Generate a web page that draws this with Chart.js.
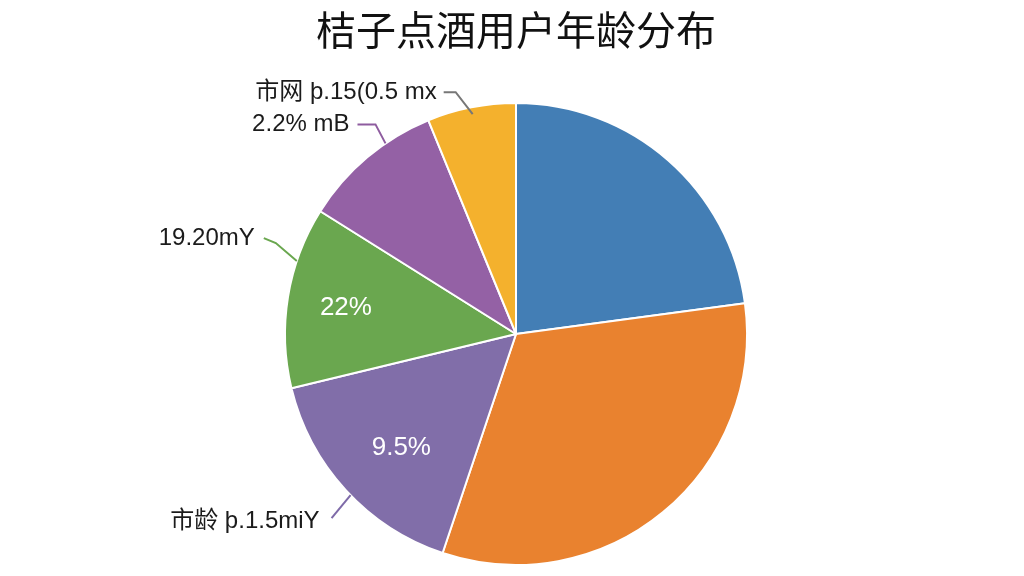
<!DOCTYPE html>
<html>
<head>
<meta charset="utf-8">
<script src="https://cdn.jsdelivr.net/npm/chart.js@4"></script>
<style>
  html, body { margin: 0; padding: 0; background: #fff; }
  #wrap { width: 1024px; height: 576px; }
</style>
</head>
<body>
<div id="wrap"><canvas id="pie"></canvas></div>
<script>
// ── DATA (clockwise from 12 o'clock) ──
const sliceNames  = ['', '', '市龄 þ.1.5miY', '19.20mY', '2.2% mB', '市网 þ.15(0.5 mx'];
const sliceValues = [22.9, 32.3, 16.1, 12.7, 9.9, 6.2];
const innerLabels = ['', '', '9.5%', '22%', '', ''];

const COLOURS = ['#437eb5', '#e9822f', '#816ea9', '#6aa74f', '#9461a5', '#f4b12d'];
const FONT = '"Liberation Sans", "Noto Sans CJK SC", sans-serif';

// ── INSIDE LABEL PLACEMENT: [fraction along slice, fraction of radius] ──
const INNER_POS = { 2: [0.46, 0.70], 3: [0.49, 0.745] };

// ── LEADER LINES: where each outside label hangs off its slice ──
const LEADERS = {
  2: { at: 0.47, r: 1.0,  pts: [[-19, 23]],            gap: 12, dy: 3, colour: '#7e6aa8' },
  3: { at: 0.70, r: 1.0,  pts: [[-21, -18], [-12, -5]], gap: 9,  dy: 0, colour: '#6aa74f' },
  4: { at: 0.66, r: 1.0,  pts: [[-10, -19], [-18, 0]],  gap: 8,  dy: 0, colour: '#8e5c9f' },
  5: { at: 0.50, r: 0.97, pts: [[-17, -22], [-12, 0]],  gap: 7,  dy: 0, colour: '#777777' },
};

const labelPlugin = {
  id: 'sliceLabels',
  afterDatasetsDraw(chart) {
    const ctx = chart.ctx;
    const arcs = chart.getDatasetMeta(0).data;
    ctx.save();
    arcs.forEach((arc, i) => {
      const { x, y, startAngle, endAngle, outerRadius } = arc.getProps(['x','y','startAngle','endAngle','outerRadius'], true);
      // inside label
      if (innerLabels[i]) {
        const [f, rf] = INNER_POS[i] || [0.5, 0.72];
        const a = startAngle + f * (endAngle - startAngle);
        const r = outerRadius * rf;
        ctx.fillStyle = '#fff';
        ctx.font = '26px ' + FONT;
        ctx.textAlign = 'center';
        ctx.textBaseline = 'middle';
        ctx.fillText(innerLabels[i], x + r * Math.cos(a), y + r * Math.sin(a));
      }
      // outside label + leader
      const L = LEADERS[i];
      if (!L || !sliceNames[i]) return;
      const a = startAngle + L.at * (endAngle - startAngle);
      let px = x + outerRadius * L.r * Math.cos(a);
      let py = y + outerRadius * L.r * Math.sin(a);
      ctx.strokeStyle = L.colour;
      ctx.lineWidth = 2;
      ctx.beginPath();
      ctx.moveTo(px, py);
      L.pts.forEach(([dx, dy]) => { px += dx; py += dy; ctx.lineTo(px, py); });
      ctx.stroke();
      ctx.fillStyle = '#1b1b1b';
      ctx.font = '24px ' + FONT;
      ctx.textAlign = 'right';
      ctx.textBaseline = 'middle';
      ctx.fillText(sliceNames[i], px - L.gap, py + L.dy);
    });
    ctx.restore();
  }
};

new Chart(document.getElementById('pie'), {
  type: 'pie',
  data: {
    labels: sliceNames,
    datasets: [{
      data: sliceValues,
      backgroundColor: COLOURS,
      borderColor: '#fff',
      borderWidth: 2,
    }]
  },
  options: {
    responsive: true, maintainAspectRatio: false,
    animation: false,
    layout: { padding: { left: 8, right: 0, top: 0, bottom: 10 } },
    plugins: {
      legend: { display: false },
      tooltip: { enabled: false },
      title: {
        display: true,
        text: '桔子点酒用户年龄分布',
        color: '#111',
        font: { family: '"Noto Sans CJK SC", sans-serif', size: 40, weight: 'normal', lineHeight: 1.2 },
        padding: { top: 6, bottom: 48 },
      }
    }
  },
  plugins: [labelPlugin]
});
</script>
</body>
</html>
